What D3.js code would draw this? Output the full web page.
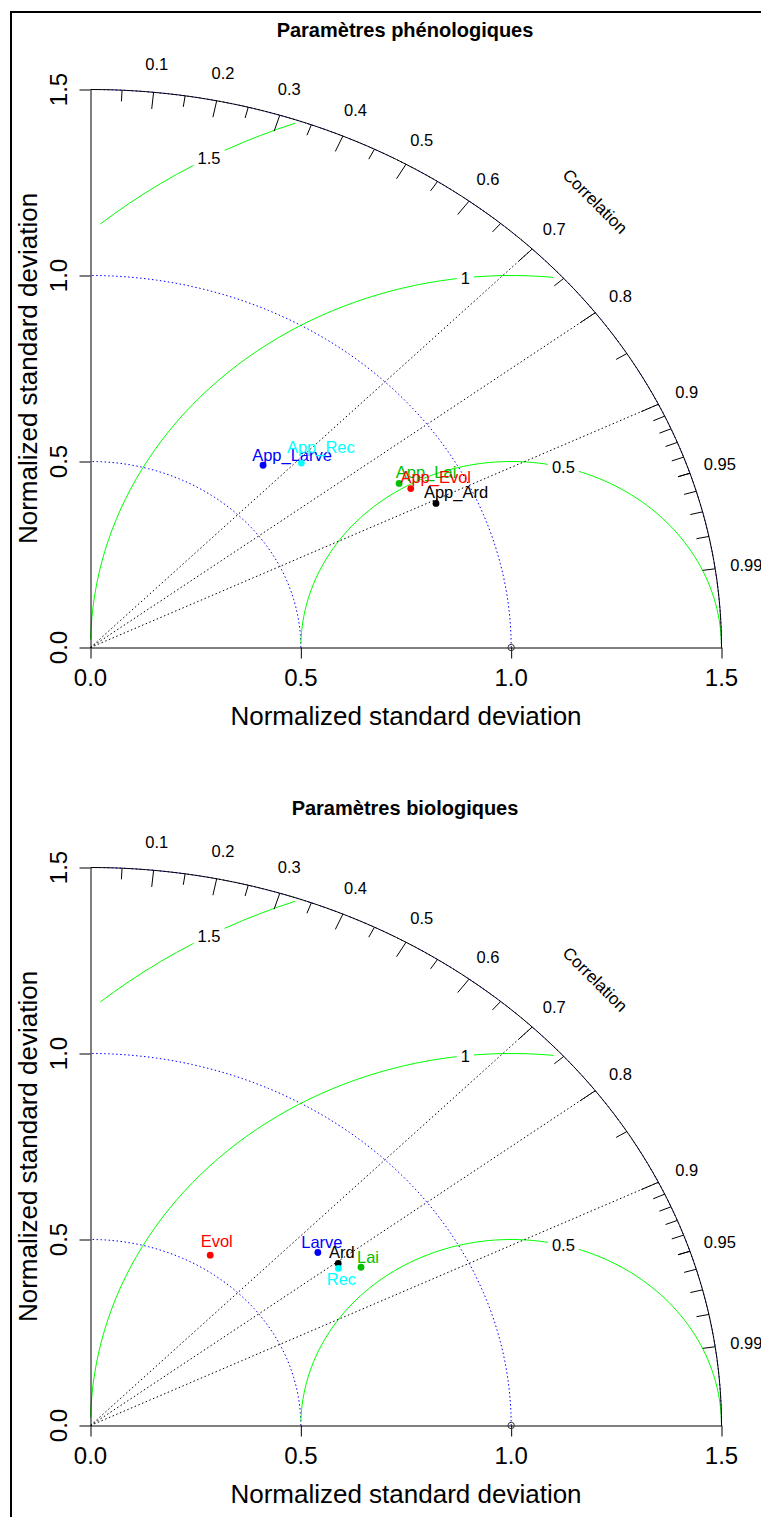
<!DOCTYPE html>
<html><head><meta charset="utf-8">
<script src="https://cdn.jsdelivr.net/npm/d3@7"></script>
<style>body{margin:0;background:#fff} svg{display:block} text{font-family:"Liberation Sans",Arial,sans-serif}</style>
</head><body><svg id="c" width="761" height="1517"></svg>
<script>
// ---------- data ----------
const sdTicks = [0, 0.5, 1.0, 1.5];
const sdTickLabels = ["0.0", "0.5", "1.0", "1.5"];
const corLabelValues = [0.1, 0.2, 0.3, 0.4, 0.5, 0.6, 0.7, 0.8, 0.9, 0.95, 0.99];
const corBigTicks = [0.1, 0.2, 0.3, 0.4, 0.5, 0.6, 0.7, 0.8, 0.9];
const corMedTicks = [0.05, 0.15, 0.25, 0.35, 0.45, 0.55, 0.65, 0.75, 0.85, 0.95];
const corSmallTicks = [0.91, 0.92, 0.93, 0.94, 0.95, 0.96, 0.97, 0.98, 0.99];
const corLines = [0.7, 0.8, 0.9];
const sdArcs = [0.5, 1.0];
const gammaLevels = [0.5, 1, 1.5];
const gammaLabels = ["0.5", "1", "1.5"];
const refSd = 1;
const maxSd = 1.5;

const titles = ["Paramètres phénologiques", "Paramètres biologiques"];
const axisTitle = "Normalized standard deviation";

const phenoNames = ["App_Larve", "App_Rec", "App_Lai", "App_Evol", "App_Ard"];
const phenoSd    = [0.639, 0.705, 0.856, 0.873, 0.908];
const phenoCor   = [0.642, 0.711, 0.857, 0.872, 0.9045];
const phenoColors = ["#0000ff", "#00ffff", "#00c000", "#ff0000", "#000000"];

const bioNames = ["Evol", "Larve", "Ard", "Rec", "Lai"];
const bioSd    = [0.539, 0.713, 0.7325, 0.725, 0.771];
const bioCor   = [0.528, 0.758, 0.804, 0.813, 0.834];
const bioColors = ["#ff0000", "#0000ff", "#000000", "#00ffff", "#00c000"];

// ---------- layout config ----------
const labelOffsets = [
  {App_Larve:[29,-10.5], App_Rec:[19.5,-16], App_Lai:[27,-11], App_Evol:[25,-11.5], App_Ard:[20,-11.5]},
  {Evol:[6.5,-14], Larve:[4,-10.6], Ard:[3.5,-11.3], Rec:[3,10.7], Lai:[7,-10.3]}
];
const gammaLabelIdx = [44, 56, 69]; // index into theta sampling (step 0.03)
const panelShift = [0, 778];
const smallFont = 16.5;

const svg = d3.select("#c");
// frame
svg.append("path").attr("d", "M11,1517V12H761").attr("fill", "none").attr("stroke", "#000").attr("stroke-width", 2);

function panel(k, names, sds, cors, colors) {
  const dy = panelShift[k];
  const x = d3.scaleLinear().domain([0, maxSd]).range([90.5, 721.5]);
  const y = d3.scaleLinear().domain([0, maxSd]).range([647.5 + dy, 89.5 + dy]);
  const g = svg.append("g");
  const P = (r, a) => [x(r * Math.cos(a)), y(r * Math.sin(a))];

  // title
  g.append("text").attr("x", 405).attr("y", 37 + dy).attr("text-anchor", "middle")
    .attr("font-weight", "bold").attr("font-size", 20).text(titles[k]);

  // sd arcs (blue dotted)
  const arcLine = d3.line();
  [...sdArcs, maxSd].forEach(r => {
    const pts = d3.range(0, 91).map(d => P(r, d * Math.PI / 180));
    g.append("path").attr("d", arcLine(pts)).attr("fill", "none")
      .attr("stroke", "#0000ff").attr("stroke-width", 1).attr("stroke-dasharray", "1.5,2.5");
  });

  // gamma (RMS) circles
  const th = d3.range(0, Math.PI, 0.03);
  gammaLevels.forEach((gm, gi) => {
    const xc = th.map(t => Math.cos(t) * gm + refSd);
    const yc = th.map(t => Math.sin(t) * gm);
    let end = xc.findIndex(v => v < 0);
    end = end >= 0 ? end - 1 : xc.length - 1;
    let start = -1;
    xc.forEach((v, i) => { if (v * v + yc[i] * yc[i] > maxSd * maxSd + 1e-9) start = i; });
    start = start + 1;
    const pts = d3.range(start, end + 1).map(i => [x(xc[i]), y(yc[i])]);
    g.append("path").attr("d", d3.line()(pts)).attr("fill", "none")
      .attr("stroke", "#00ff00").attr("stroke-width", 1);
    const li = gammaLabelIdx[gi];
    const lx = x(xc[li]), ly = y(yc[li]);
    const t = g.append("text").attr("x", lx).attr("y", ly).attr("dy", "0.36em")
      .attr("text-anchor", "middle").attr("font-size", smallFont).text(gammaLabels[gi]);
    const bb = t.node().getBBox();
    g.insert("rect", "text:last-child").attr("x", bb.x - 4).attr("y", bb.y).attr("width", bb.width + 8)
      .attr("height", bb.height).attr("fill", "#fff");
    t.raise();
  });

  // correlation lines
  corLines.forEach(c => {
    const a = Math.acos(c);
    g.append("line").attr("x1", x(0)).attr("y1", y(0))
      .attr("x2", P(maxSd, a)[0]).attr("y2", P(maxSd, a)[1])
      .attr("stroke", "#000").attr("stroke-width", 1).attr("stroke-dasharray", "1.5,2.5");
  });

  // outer arc
  g.append("path").attr("d", arcLine(d3.range(0, 91).map(d => P(maxSd, d * Math.PI / 180))))
    .attr("fill", "none").attr("stroke", "#000").attr("stroke-width", 1);

  // correlation ticks
  const tick = (c, f) => {
    const a = Math.acos(c);
    const p1 = P(maxSd, a), p2 = P(maxSd * f, a);
    g.append("line").attr("x1", p1[0]).attr("y1", p1[1]).attr("x2", p2[0]).attr("y2", p2[1])
      .attr("stroke", "#000").attr("stroke-width", 1);
  };
  corBigTicks.forEach(c => tick(c, 0.97));
  [...corMedTicks, ...corSmallTicks].forEach(c => tick(c, 0.98));

  // correlation labels
  corLabelValues.forEach(c => {
    const p = P(maxSd * 1.05, Math.acos(c));
    g.append("text").attr("x", p[0]).attr("y", p[1]).attr("dy", "0.36em")
      .attr("text-anchor", "middle").attr("font-size", smallFont).text(String(c));
  });
  g.append("text").attr("transform", `translate(${x(maxSd * 0.8)},${y(maxSd * 0.8)}) rotate(45)`)
    .attr("dy", "0.36em").attr("text-anchor", "middle").attr("font-size", smallFont + 0.5).text("Correlation");

  // axes
  const ax = g.append("g").attr("transform", `translate(0,${y(0)})`)
    .call(d3.axisBottom(x).tickValues(sdTicks).tickSize(11).tickSizeOuter(0).tickFormat(""));
  const ay = g.append("g").attr("transform", `translate(${x(0)},0)`)
    .call(d3.axisLeft(y).tickValues(sdTicks).tickSize(11).tickSizeOuter(0).tickFormat(""));
  [ax, ay].forEach(a => { a.selectAll("path,line").attr("stroke", "#000").attr("stroke-width", 1); });

  sdTicks.forEach((v, i) => {
    g.append("text").attr("x", x(v)).attr("y", y(0) + 38).attr("text-anchor", "middle")
      .attr("font-size", 24).text(sdTickLabels[i]);
    g.append("text").attr("transform", `translate(${x(0) - 24},${y(v)}) rotate(-90)`)
      .attr("text-anchor", "middle").attr("font-size", 24).text(sdTickLabels[i]);
  });
  g.append("text").attr("x", (x(0) + x(maxSd)) / 2).attr("y", y(0) + 77).attr("text-anchor", "middle")
    .attr("font-size", 26).text(axisTitle);
  g.append("text").attr("transform", `translate(${x(0) - 54},${(y(0) + y(maxSd)) / 2}) rotate(-90)`)
    .attr("text-anchor", "middle").attr("font-size", 26).text(axisTitle);

  // reference point
  g.append("circle").attr("cx", x(refSd)).attr("cy", y(0)).attr("r", 3.2)
    .attr("fill", "none").attr("stroke", "#333").attr("stroke-width", 1);

  // model points
  names.forEach((n, i) => {
    const a = Math.acos(cors[i]);
    const p = P(sds[i], a);
    const off = labelOffsets[k][n];
    g.append("circle").attr("cx", p[0]).attr("cy", p[1]).attr("r", 3.4).attr("fill", colors[i]);
    g.append("text").attr("x", p[0] + off[0]).attr("y", p[1] + off[1]).attr("dy", "0.36em")
      .attr("text-anchor", "middle").attr("font-size", smallFont).attr("fill", colors[i]).text(n);
  });
}

panel(0, phenoNames, phenoSd, phenoCor, phenoColors);
panel(1, bioNames, bioSd, bioCor, bioColors);
</script>
</body></html>
